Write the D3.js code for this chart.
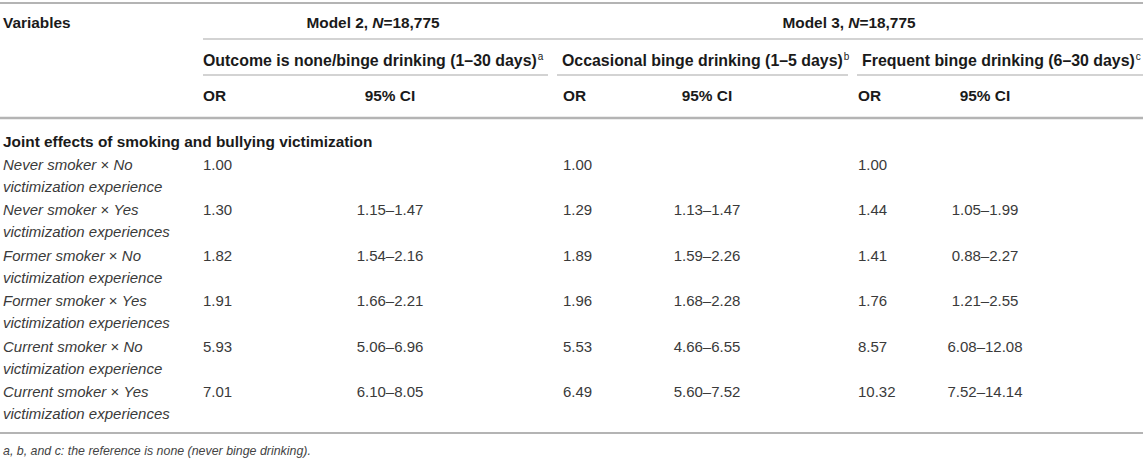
<!DOCTYPE html>
<html>
<head>
<meta charset="utf-8">
<script src="https://cdn.jsdelivr.net/npm/d3@7"></script>
<style>
    body { margin: 0; background: #fff; }
    svg text { font-family: "Liberation Sans", Arial, sans-serif; }
</style>
</head>
<body>
<div id="table"></div>
<script>
// row labels
var smokerStatus = ["Never smoker", "Never smoker", "Former smoker", "Former smoker", "Current smoker", "Current smoker"];
var victimized = ["No", "Yes", "No", "Yes", "No", "Yes"];
var labelLine2 = ["victimization experience", "victimization experiences", "victimization experience",
    "victimization experiences", "victimization experience", "victimization experiences"];

// Model 2: none / binge drinking (1-30 days)
var orModel2 = [1.00, 1.30, 1.82, 1.91, 5.93, 7.01];
var ciLowModel2 = [null, 1.15, 1.54, 1.66, 5.06, 6.10];
var ciHighModel2 = [null, 1.47, 2.16, 2.21, 6.96, 8.05];

// Model 3: occasional binge drinking (1-5 days)
var orOccasional = [1.00, 1.29, 1.89, 1.96, 5.53, 6.49];
var ciLowOccasional = [null, 1.13, 1.59, 1.68, 4.66, 5.60];
var ciHighOccasional = [null, 1.47, 2.26, 2.28, 6.55, 7.52];

// Model 3: frequent binge drinking (6-30 days)
var orFrequent = [1.00, 1.44, 1.41, 1.76, 8.57, 10.32];
var ciLowFrequent = [null, 1.05, 0.88, 1.21, 6.08, 7.52];
var ciHighFrequent = [null, 1.99, 2.27, 2.55, 12.08, 14.14];

// header texts
var outcomeHeaders = ["Outcome is none/binge drinking (1\u201330 days)", "Occasional binge drinking (1\u20135 days)", "Frequent binge drinking (6\u201330 days)"];
var outcomeNotes = ["a", "b", "c"];
var sectionTitle = "Joint effects of smoking and bullying victimization";
var footnote = "a, b, and c: the reference is none (never binge drinking).";

var width = 1143, height = 459;
var fmt = d3.format(".2f");

var svg = d3.select("#table")
    .append("svg")
    .attr("width", width)
    .attr("height", height);

// column positions
var colX = d3.scaleOrdinal()
    .domain(["var", "or1", "ci1", "or2", "ci2", "or3", "ci3"])
    .range([3, 203, 390, 563, 707, 858, 985]);
var groupStart = [203, 557, 857];
var groupEnd = [548, 848, 1143];

var headColor = "#1a1a1a", bodyColor = "#3a3a3a", lineColor = "#b4b4b4";

function hline(x1, x2, y, w, c) {
    svg.append("line")
        .attr("x1", x1).attr("x2", x2)
        .attr("y1", y).attr("y2", y)
        .attr("stroke", c || lineColor)
        .attr("stroke-width", w);
}

// rules
hline(0, width, 3, 2);
hline(203, width, 39, 1.5, "#c4c4c4");
groupStart.forEach(function (s, i) { hline(s, groupEnd[i], 75, 1.5, "#c4c4c4"); });
hline(0, width, 118, 2.5);
hline(0, width, 433, 2);

function bold(x, y, anchor, size) {
    return svg.append("text")
        .attr("x", x).attr("y", y)
        .attr("text-anchor", anchor || "start")
        .attr("font-weight", "bold")
        .attr("font-size", (size || 15.4) + "px")
        .attr("fill", headColor);
}

// header rows
bold(colX("var"), 28).text("Variables");
var m2 = bold(373, 28, "middle");
m2.append("tspan").text("Model 2, ");
m2.append("tspan").attr("font-style", "italic").text("N");
m2.append("tspan").text("=18,775");
var m3 = bold(849, 28, "middle");
m3.append("tspan").text("Model 3, ");
m3.append("tspan").attr("font-style", "italic").text("N");
m3.append("tspan").text("=18,775");

outcomeHeaders.forEach(function (h, i) {
    var t = bold(groupStart[i] + (i == 0 ? 0 : 5), 66, "start", 15.9);
    t.append("tspan").text(h);
    t.append("tspan").attr("font-size", "10px").attr("font-weight", "normal").attr("dy", -6).attr("dx", 1).text(outcomeNotes[i]);
});

["1", "2", "3"].forEach(function (k) {
    bold(colX("or" + k), 101).text("OR");
    bold(colX("ci" + k), 101, "middle").text("95% CI");
});

bold(colX("var"), 147).text(sectionTitle);

// data rows
var y = d3.scaleBand()
    .domain(d3.range(smokerStatus.length))
    .range([152, 424.4]);

var rows = svg.selectAll("g.row")
    .data(d3.range(smokerStatus.length))
    .enter().append("g")
    .attr("class", "row")
    .attr("transform", function (i) { return "translate(0," + y(i) + ")"; });

function body(sel, x, dy, anchor) {
    return sel.append("text")
        .attr("x", x).attr("y", dy)
        .attr("text-anchor", anchor || "start")
        .attr("font-size", "15px")
        .attr("fill", bodyColor);
}

var cols = [
    [orModel2, ciLowModel2, ciHighModel2],
    [orOccasional, ciLowOccasional, ciHighOccasional],
    [orFrequent, ciLowFrequent, ciHighFrequent]
];

rows.each(function (i) {
    var g = d3.select(this);
    var l1 = body(g, colX("var"), 18);
    l1.append("tspan").attr("font-style", "italic").text(smokerStatus[i]);
    l1.append("tspan").text(" \u00d7 ");
    l1.append("tspan").attr("font-style", "italic").text(victimized[i]);
    body(g, colX("var"), 40).attr("font-style", "italic").text(labelLine2[i]);

    cols.forEach(function (c, k) {
        body(g, colX("or" + (k + 1)), 18).text(fmt(c[0][i]));
        if (c[1][i] != null) {
            body(g, colX("ci" + (k + 1)), 18, "middle").text(fmt(c[1][i]) + "\u2013" + fmt(c[2][i]));
        }
    });
});

// footnote
svg.append("text")
    .attr("x", colX("var")).attr("y", 455)
    .attr("font-size", "12.4px")
    .attr("font-style", "italic")
    .attr("fill", "#444")
    .text(footnote);
</script>
</body>
</html>
